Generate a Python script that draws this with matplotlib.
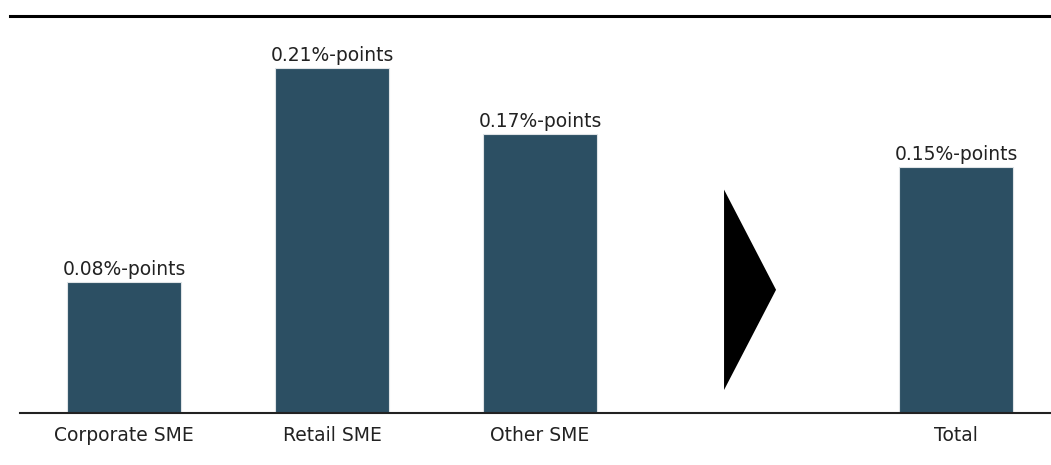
import matplotlib.pyplot as plt
import numpy as np
from matplotlib.lines import Line2D
from matplotlib.patches import Polygon

plt.rcParams['font.family'] = ['DejaVu Sans']

categories = ["Corporate SME", "Retail SME", "Other SME", "", "Total"]
values = [0.08, 0.21, 0.17, None, 0.15]
labels = ["0.08%-points", "0.21%-points", "0.17%-points", "", "0.15%-points"]

bar_color = "#2c4f63"

fig = plt.figure(figsize=(10.51, 4.65), dpi=100)
ax = fig.add_axes([20/1051, 1-413/465, 1-20/1051, (413-16)/465])

x = np.arange(len(categories))
for i, v in enumerate(values):
    if v is None:
        continue
    ax.bar(x[i], v, width=0.55, color=bar_color, edgecolor="#dfe3e6", linewidth=0.8, zorder=2)
    ax.annotate(labels[i], (x[i], v), xytext=(0, 2), textcoords="offset points",
                ha="center", va="bottom", fontsize=13.5, color="#222222")

# arrow between components and total
ax.add_patch(Polygon([[2.885, 0.014], [2.885, 0.136], [3.135, 0.075]], closed=True,
                     facecolor="black", edgecolor="none"))

ax.set_xlim(-0.5, 4.457)
ax.set_ylim(0, 0.2417)
ax.set_xticks(x)
ax.set_xticklabels(categories, fontsize=13.5, color="#222222")
ax.tick_params(axis="x", length=0, pad=9)
ax.set_yticks([])
for s in ["top", "right", "left"]:
    ax.spines[s].set_visible(False)
ax.spines["bottom"].set_color("#222222")
ax.spines["bottom"].set_linewidth(1.5)

fig.add_artist(Line2D([10/1051, 1], [1-16/465, 1-16/465], color="black", linewidth=2.2))

fig.savefig("out.png", dpi=100)
